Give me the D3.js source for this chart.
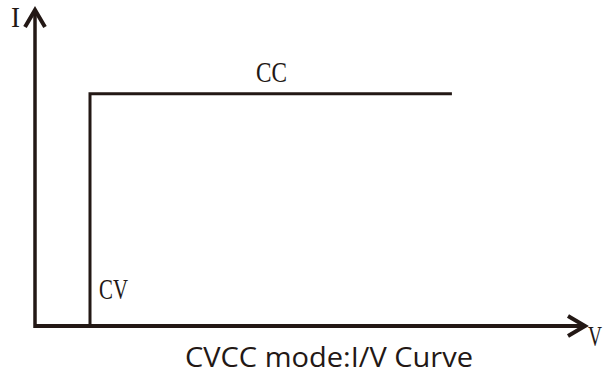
<!DOCTYPE html>
<html><head><meta charset="utf-8">
<script src="https://cdn.jsdelivr.net/npm/d3@7"></script>
<style>body{margin:0;background:#fff}svg{display:block}</style>
</head><body>
<script>
// Data
const curveV = [1.0, 1.0, 7.58];   // voltage (relative)
const curveI = [0, 7.35, 7.35];    // current (relative)
const regionLabels = ["CC", "CV"];
const axisLabels = ["I", "V"];
const title = "CVCC mode:I/V Curve";

const W = 608, H = 374, ink = "#231815";
const svg = d3.select("body").append("svg").attr("width", W).attr("height", H);
const x = d3.scaleLinear().domain([0, 10]).range([35, 585]);
const y = d3.scaleLinear().domain([0, 10]).range([326, 10]);

// axes
svg.append("line").attr("x1", x(0)).attr("y1", y(0)).attr("x2", x(10) - 2).attr("y2", y(0))
  .attr("stroke", ink).attr("stroke-width", 4);
svg.append("line").attr("x1", x(0)).attr("y1", y(0) + 2).attr("x2", x(0)).attr("y2", y(10) + 2)
  .attr("stroke", ink).attr("stroke-width", 3.5);
// arrow heads
svg.append("path").attr("d", `M${x(10)-17},${y(0)-10} L${x(10)},${y(0)} L${x(10)-17},${y(0)+10}`)
  .attr("fill", "none").attr("stroke", ink).attr("stroke-width", 4).attr("stroke-linejoin", "miter");
svg.append("path").attr("d", `M${x(0)-10},${y(10)+17} L${x(0)},${y(10)} L${x(0)+10},${y(10)+17}`)
  .attr("fill", "none").attr("stroke", ink).attr("stroke-width", 4).attr("stroke-linejoin", "miter");

// curve
const pts = curveV.map((v, i) => [v, curveI[i]]);
svg.append("path").datum(pts)
  .attr("d", d3.line().x(d => x(d[0])).y(d => y(d[1])))
  .attr("fill", "none").attr("stroke", ink).attr("stroke-width", 3).attr("stroke-linejoin", "miter");

const serif = "'Liberation Serif', 'DejaVu Serif', serif";
function label(t, xx, yy, len, size) {
  svg.append("text").attr("x", xx).attr("y", yy).text(t)
    .attr("font-family", serif).attr("font-size", size).attr("fill", ink)
    .attr("textLength", len).attr("lengthAdjust", "spacingAndGlyphs");
}
label(regionLabels[0], 256, 82, 31, 30);
label(regionLabels[1], 99, 299, 29, 30);
label(axisLabels[0], 11, 27, 9, 30);
label(axisLabels[1], 588, 346, 14, 29);

svg.append("text").attr("x", 329).attr("y", 366.5).attr("text-anchor", "middle").text(title)
  .attr("font-family", "'Open Sans', 'Noto Sans', sans-serif").attr("font-size", 28)
  .attr("fill", ink).attr("textLength", 288).attr("lengthAdjust", "spacingAndGlyphs");
</script>
</body></html>
